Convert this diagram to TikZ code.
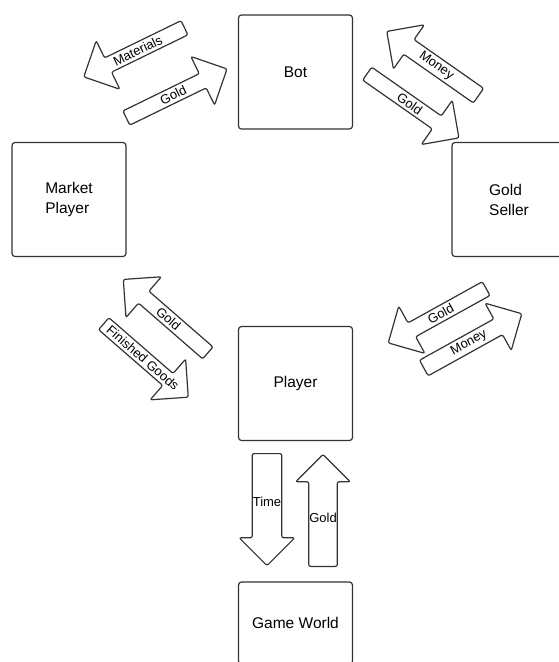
\documentclass[tikz,border=0pt]{standalone}
\usepackage{fontspec}
\setmainfont{Liberation Sans}
\usetikzlibrary{shapes.arrows}

\begin{document}
\begin{tikzpicture}[x=1pt,y=-1pt,line width=1.2pt]
  \tikzstyle{box}=[draw=black!80,rounded corners=3pt,minimum width=114pt,minimum height=114pt,
    align=left,font=\fontsize{15.5}{20}\selectfont]
  \tikzstyle{flow}=[draw=black!80,single arrow,rounded corners=2pt,minimum height=112pt,
    minimum width=54pt,single arrow head extend=13pt,inner sep=0pt,anchor=tail,
    font=\fontsize{13}{15}\selectfont]
  \tikzstyle{back}=[shape border rotate=180]

  \path[use as bounding box,clip] (0,0) rectangle (559,662);

  % the five parties
  \node[box] (bot)    at (295.5,72)    {Bot};
  \node[box] (market) at (69,199.5)    {Market\\Player};
  \node[box] (seller) at (509,199.5)   {Gold\\Seller};
  \node[box] (player) at (295.5,383.5) {Player};
  \node[box,minimum height=82pt] (world) at (295.5,623) {Game World};

  % what goes between them
  \node[flow,back,rotate=26]  (materials) at (185,27.5)    {Materials};
  \node[flow,rotate=26]       (goldbot)   at (125.8,118.3) {Gold};
  \node[flow,back,rotate=-35] (money)     at (479,96)      {Money};
  \node[flow,rotate=-35]      (goldsell)  at (366.7,73.3)  {Gold};
  \node[flow,back,rotate=-41] (goldmkt)   at (208.3,353.3) {Gold};
  \node[flow,rotate=-41]      (goods)     at (103.3,323.3) {Finished Goods};
  \node[flow,back,rotate=29]  (goldply)   at (486.7,288.3) {Gold};
  \node[flow,rotate=29]       (moneyply)  at (423.3,368.3) {Money};
  \node[flow,shape border rotate=270] (time)  at (267,453) {Time};
  \node[flow,shape border rotate=90] (goldgame) at (323,567) {Gold};
\end{tikzpicture}
\end{document}
